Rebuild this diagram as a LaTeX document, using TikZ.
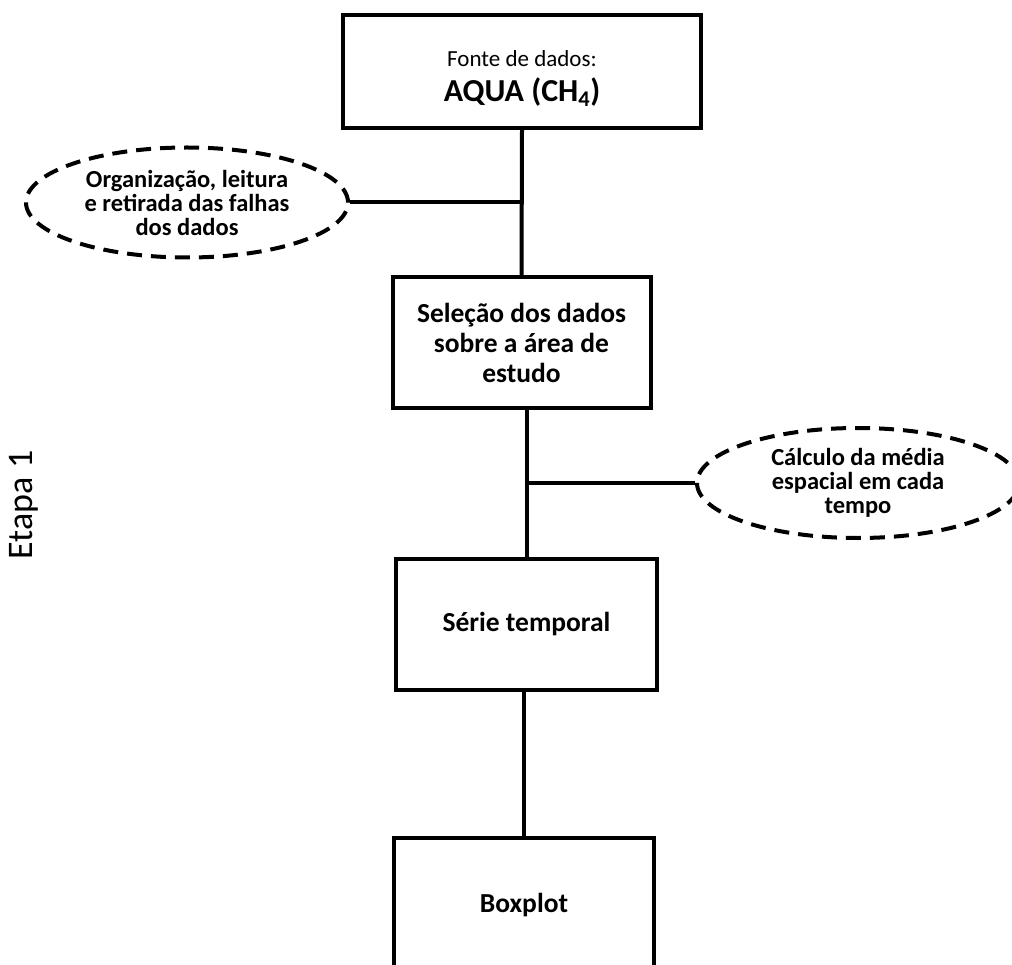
\documentclass[tikz,border=0pt]{standalone}
\usepackage{fontspec}
\setmainfont{Carlito}
\usetikzlibrary{shapes.geometric}
\begin{document}
\begin{tikzpicture}[x=1pt,y=-1pt,
  stepbox/.style={draw=black, line width=4pt, rectangle, align=center, inner sep=0pt,
    font=\bfseries\fontsize{27.5}{30}\selectfont},
  noteell/.style={draw=black, line width=4pt, dash pattern=on 15pt off 9pt, ellipse,
    align=center, inner sep=0pt, font=\bfseries\fontsize{24.5}{24}\selectfont},
  link/.style={draw=black, line width=4pt}]
\useasboundingbox (0,0) rectangle (1012,965);
\clip (0,0) rectangle (1012,965);
\node[stepbox, minimum width=358pt, minimum height=113pt] (src) at (522,71.5)
  {{\mdseries\fontsize{23}{26}\selectfont\rule{0pt}{30pt}Fonte de dados:}\\[5pt]
   {\fontsize{32}{34}\selectfont AQUA (CH\textsubscript{4})}};
\node[stepbox, minimum width=258pt, minimum height=131pt] (sel) at (521.5,342.5)
  {Seleção dos dados\\sobre a área de\\estudo};
\node[stepbox, minimum width=261pt, minimum height=131pt] (ser) at (526.5,624.5)
  {Série temporal};
\node[stepbox, minimum width=260pt, minimum height=135pt] (box) at (524,905.5)
  {Boxplot};
\node[noteell, minimum width=322pt, minimum height=110pt] (org) at (187,202.5)
  {Organização, leitura\\e retirada das falhas\\dos dados};
\node[noteell, minimum width=322pt, minimum height=110pt] (med) at (858,483)
  {Cálculo da média\\espacial em cada\\tempo};
\node[rotate=90, font=\fontsize{36}{40}\selectfont, inner sep=0pt] (etapa) at (24,505) {Etapa 1};
\draw[link] (src.south) -- (sel.north);
\draw[link] (ser.north |- sel.south) -- (ser.north);
\draw[link] (box.north |- ser.south) -- (box.north);
\draw[link] (org.east) -- (org.east -| src.south);
\draw[link] (med.west) -- (med.west -| ser.north);
\end{tikzpicture}
\end{document}
